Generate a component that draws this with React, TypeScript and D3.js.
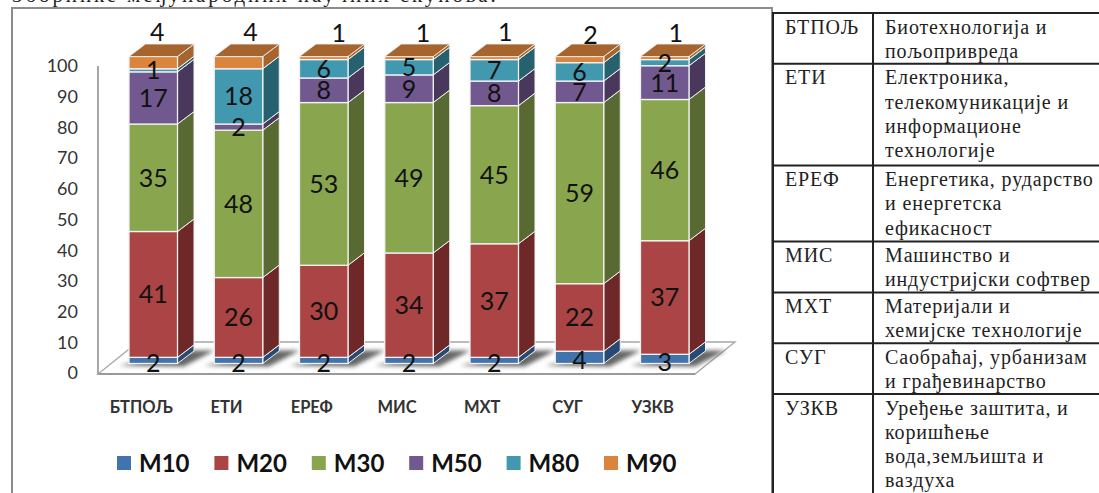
import React from "react";
import * as d3 from "d3";

const categories = ["БТПОЉ", "ЕТИ", "ЕРЕФ", "МИС", "МХТ", "СУГ", "УЗКВ"];
const seriesNames = ["М10", "М20", "М30", "М50", "М80", "М90"];
const m10 = [2, 2, 2, 2, 2, 4, 3];
const m20 = [41, 26, 30, 34, 37, 22, 37];
const m30 = [35, 48, 53, 49, 45, 59, 46];
const m50 = [17, 2, 8, 9, 8, 7, 11];
const m80 = [1, 18, 6, 5, 7, 6, 2];
const m90 = [4, 4, 1, 1, 1, 2, 1];
const seriesValues = [m10, m20, m30, m50, m80, m90];
const yTicks = [0, 10, 20, 30, 40, 50, 60, 70, 80, 90, 100];

const frontColors = ["#4174AC", "#AB4444", "#89A54E", "#71588F", "#4198AF", "#DB843D"];
const sideColors = ["#264A73", "#6D2827", "#586A32", "#49375C", "#25616F", "#A5652D"];
const capColor = "#A6652E";

// Nudges for the labels that sit above each column.
const capLabelDx = [4, 12, 15, 14, 11, 11, 11];
const capLabelDy = [0, 0, 1, 1, 0, 3, 1];

const tableCodes = categories;
const tableDescriptions = [
  ["Биотехнологија и", "пољопривреда"],
  ["Електроника,", "телекомуникације и", "информационе", "технологије"],
  ["Енергетика, рударство", "и енергетска", "ефикасност"],
  ["Машинство и", "индустријски софтвер"],
  ["Материјали и", "хемијске технологије"],
  ["Саобраћај, урбанизам", "и грађевинарство"],
  ["Уређење заштита, и", "коришћење", "вода,земљишта и", "ваздуха"],
];
const headingText = "Зборнике међународних научних скупова.";

const WIDTH = 1099;
const HEIGHT = 493;
const DEPTH_X = 16.5;
const DEPTH_Y = 12.5;
const FLOOR_LIFT = 9.5;
const SANS = "Lato, 'Open Sans', sans-serif";
const SERIF = "'Liberation Serif', serif";

const yScale = d3.scaleLinear().domain([0, 100]).range([373, 66]);
const xScale = d3
  .scaleBand<string>()
  .domain(categories)
  .range([129, 689])
  .paddingInner(0.431)
  .paddingOuter(0);
const legendX = d3.scaleLinear().domain([0, 5]).range([117, 604]);

const points = (p: [number, number][]) => p.map((c) => c.join(",")).join(" ");
const barY = (v: number) => yScale(v) - FLOOR_LIFT;

const stacked = d3
  .stack<number>()
  .keys(d3.range(seriesNames.length).map(String))
  .value((i, key) => seriesValues[+key][i])(d3.range(categories.length));

function Column({ index }: { index: number }) {
  const name = categories[index];
  const x0 = xScale(name) as number;
  const x1 = x0 + xScale.bandwidth();
  const topY = barY(stacked[stacked.length - 1][index][1]);
  return (
    <g>
      {stacked.map((layer, s) => {
        const yLow = barY(layer[index][0]);
        const yHigh = barY(layer[index][1]);
        return (
          <g key={s}>
            <polygon
              points={points([
                [x1, yLow],
                [x1 + DEPTH_X, yLow - DEPTH_Y],
                [x1 + DEPTH_X, yHigh - DEPTH_Y],
                [x1, yHigh],
              ])}
              fill={sideColors[s]}
              stroke="#f2f2f2"
              strokeWidth={1}
            />
            <rect
              x={x0}
              y={yHigh}
              width={x1 - x0}
              height={yLow - yHigh}
              fill={frontColors[s]}
              stroke="#f2f2f2"
              strokeWidth={1.3}
            />
          </g>
        );
      })}
      <polygon
        points={points([
          [x0, topY],
          [x1, topY],
          [x1 + DEPTH_X, topY - DEPTH_Y],
          [x0 + DEPTH_X, topY - DEPTH_Y],
        ])}
        fill={capColor}
        stroke="#f2f2f2"
        strokeWidth={0.8}
      />
    </g>
  );
}

function ColumnLabels({ index }: { index: number }) {
  const name = categories[index];
  const cx = (xScale(name) as number) + xScale.bandwidth() / 2;
  const last = stacked.length - 1;
  return (
    <g fontFamily={SANS} fontSize={25} fill="#111" textAnchor="middle">
      {stacked.slice(0, last).map((layer, s) => (
        <text
          key={s}
          x={cx}
          y={(barY(layer[index][0]) + barY(layer[index][1])) / 2 + (s === 0 ? 3 : 0)}
          dy="0.36em"
        >
          {seriesValues[s][index]}
        </text>
      ))}
      <text x={cx + capLabelDx[index]} y={32 + capLabelDy[index]} dy="0.36em">
        {seriesValues[last][index]}
      </text>
    </g>
  );
}

function ChartPanel() {
  return (
    <g>
      <defs>
        <filter id="floorShadow" x="-40%" y="-100%" width="180%" height="300%">
          <feGaussianBlur stdDeviation="2.2" />
        </filter>
      </defs>
      <rect x={12} y={8} width={760} height={HEIGHT + 20} fill="#fff" stroke="#8c8c8c" strokeWidth={2} />
      {/* Floor plane */}
      <polygon
        points={points([
          [98, 374],
          [695, 374],
          [735, 342],
          [138, 342],
        ])}
        fill="#fff"
        stroke="#a6a6a6"
        strokeWidth={1.3}
      />
      <line x1={98} x2={695} y1={374} y2={374} stroke="#9a9a9a" strokeWidth={2} />
      <line x1={98} x2={98} y1={66} y2={374} stroke="#a6a6a6" strokeWidth={2} />

      {yTicks.map((t) => (
        <text
          key={t}
          x={78}
          y={yScale(t)}
          dy="0.35em"
          textAnchor="end"
          fontFamily={SANS}
          fontSize={18}
          fill="#333"
        >
          {t}
        </text>
      ))}

      {/* Soft shadows the columns cast on the floor */}
      {categories.map((c) => {
        const x0 = xScale(c) as number;
        const x1 = x0 + xScale.bandwidth();
        const y0 = barY(0);
        return (
          <polygon
            key={c}
            points={points([
              [x0 - 10, y0 + 2],
              [x1 + 6, y0 + 3],
              [x1 + 37, y0 - 13],
              [x1 + 16, y0 - 13],
            ])}
            fill="#666"
            filter="url(#floorShadow)"
          />
        );
      })}

      {categories.map((c, i) => (
        <Column key={c} index={i} />
      ))}
      {categories.map((c, i) => (
        <ColumnLabels key={c} index={i} />
      ))}

      {categories.map((c) => (
        <text
          key={c}
          x={(xScale(c) as number) + xScale.bandwidth() / 2 - 12}
          y={407}
          dy="0.36em"
          textAnchor="middle"
          fontFamily={SANS}
          fontWeight={700}
          fontSize={16.5}
          fill="#333"
        >
          {c}
        </text>
      ))}

      {seriesNames.map((n, i) => (
        <g key={n}>
          <rect x={legendX(i)} y={456} width={14} height={14} fill={frontColors[i]} />
          <text
            x={legendX(i) + 22}
            y={463}
            dy="0.36em"
            fontFamily={SANS}
            fontWeight={700}
            fontSize={24}
            fill="#111"
          >
            {n}
          </text>
        </g>
      ))}
    </g>
  );
}

function LegendTable() {
  const lineHeight = 25.4;
  const tops: number[] = [13];
  tableDescriptions.forEach((d, i) => tops.push(tops[i] + d.length * lineHeight));
  return (
    <g fontFamily={SERIF} fontSize={20} letterSpacing={0.85} fill="#222">
      {tops.map((y) => (
        <line key={y} x1={772} x2={WIDTH} y1={y} y2={y} stroke="#222" strokeWidth={2} />
      ))}
      <line x1={773} x2={773} y1={12} y2={HEIGHT} stroke="#222" strokeWidth={2} />
      <line x1={873} x2={873} y1={12} y2={HEIGHT} stroke="#222" strokeWidth={2} />
      {tableCodes.map((code, i) => (
        <g key={code}>
          <text x={785} y={tops[i] + 20.5}>
            {code}
          </text>
          {tableDescriptions[i].map((line, j) => (
            <text key={j} x={885} y={tops[i] + 20.5 + j * 24.3}>
              {line}
            </text>
          ))}
        </g>
      ))}
    </g>
  );
}

export default function App() {
  return (
    <svg
      width={WIDTH}
      height={HEIGHT}
      viewBox={`0 0 ${WIDTH} ${HEIGHT}`}
      style={{ position: "absolute", left: 0, top: 0, display: "block", background: "#fff" }}
    >
      <text x={12} y={2} fontFamily={SERIF} fontSize={21} letterSpacing={2.9} fill="#222">
        {headingText}
      </text>
      <ChartPanel />
      <LegendTable />
    </svg>
  );
}
